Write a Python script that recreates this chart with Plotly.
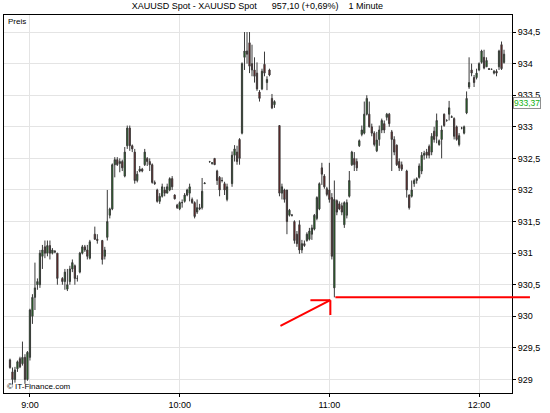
import pandas as pd
import plotly.graph_objects as go

# minute offsets from 09:00 and OHLC values
minute = [-8, -7, -6, -5, -4, -3, -2, -1, 0, 1, 2, 3, 4, 5, 6, 7, 8, 9, 10, 11, 13, 14, 15, 16, 17, 18, 19, 20,
          21, 22, 23, 24, 26, 27, 29, 30, 31, 32, 33, 34, 35, 36, 37, 38, 39, 40, 41, 42, 43, 44, 45, 46, 47, 48,
          49, 50, 51, 52, 53, 54, 55, 56, 57, 58, 59, 60, 61, 62, 63, 64, 65, 66, 67, 68, 69, 70, 72, 73, 74, 75,
          76, 77, 78, 79, 81, 82, 83, 84, 85, 86, 87, 88, 89, 90, 91, 92, 93, 94, 95, 96, 97, 98, 100, 101, 102,
          103, 104, 105, 106, 107, 108, 109, 110, 111, 112, 113, 114, 115, 116, 117, 118, 119, 120, 121, 122, 123,
          124, 125, 126, 127, 128, 129, 130, 131, 132, 133, 134, 135, 136, 137, 138, 139, 140, 141, 142, 143, 144,
          145, 146, 147, 148, 149, 151, 152, 153, 154, 155, 156, 157, 158, 159, 160, 161, 162, 163, 164, 165, 166,
          167, 168, 169, 170, 171, 172, 173, 174, 175, 176, 177, 178, 179, 180, 181, 182, 183, 184, 185, 186, 187,
          188, 189, 190]
open_ = [929.31, 929.12, 929.00, 929.17, 929.33, 929.25, 929.35, 929.00, 929.35, 930.00, 930.30, 930.50, 930.50,
         930.95, 931.10, 931.00, 931.12, 931.00, 931.03, 931.00, 930.60, 930.55, 930.43, 930.55, 930.75, 930.80,
         930.60, 930.70, 931.00, 931.10, 931.05, 930.92, 931.30, 931.22, 931.20, 930.95, 931.25, 931.60, 931.70,
         932.40, 932.48, 932.42, 932.45, 932.22, 932.70, 932.98, 932.70, 932.60, 932.15, 932.30, 932.33, 932.40,
         932.50, 932.45, 932.40, 932.12, 932.00, 931.82, 931.90, 932.00, 931.95, 932.00, 932.18, 931.92, 931.76,
         931.70, 931.80, 931.82, 931.92, 931.95, 931.85, 931.80, 931.65, 931.72, 931.72, 932.10, 932.45, 932.42,
         932.50, 932.30, 932.20, 932.15, 932.10, 931.85, 932.10, 932.55, 932.60, 932.80, 932.90, 934.10, 934.20,
         934.33, 934.00, 933.90, 933.85, 933.55, 933.60, 933.99, 933.70, 933.90, 933.45, 933.35, 933.02, 931.95,
         932.00, 932.00, 931.60, 931.60, 931.50, 931.30, 931.45, 931.05, 931.15, 931.20, 931.22, 931.30, 931.38,
         931.55, 931.70, 932.35, 932.22, 932.02, 932.00, 931.88, 930.45, 931.83, 931.78, 931.75, 931.45, 931.60,
         931.90, 932.40, 932.50, 932.45, 932.70, 932.88, 932.90, 933.20, 933.20, 933.00, 932.90, 932.62, 932.80,
         932.95, 933.05, 933.15, 933.20, 932.92, 932.80, 932.71, 932.45, 932.40, 932.30, 931.92, 931.90, 932.10,
         932.15, 932.20, 932.30, 932.55, 932.60, 932.69, 932.60, 932.93, 932.85, 932.72, 932.80, 933.20, 933.10,
         933.20, 933.15, 933.13, 933.00, 932.72, 932.98, 932.90, 933.22, 933.63, 933.90, 933.78, 933.78, 933.90,
         934.02, 934.10, 933.95, 933.92, 933.91, 933.85, 933.88, 933.95, 934.30, 934.02]
high = [929.33, 929.19, 929.20, 929.30, 929.36, 929.60, 929.40, 929.45, 930.12, 930.35, 930.85, 930.60, 931.05,
        931.13, 931.20, 931.20, 931.20, 931.08, 931.05, 931.00, 930.62, 930.75, 930.75, 930.80, 930.90, 930.82,
        930.65, 931.02, 931.13, 931.13, 931.13, 931.21, 931.42, 931.30, 931.21, 931.10, 932.00, 931.72, 932.42,
        932.52, 932.52, 932.50, 932.48, 932.68, 933.02, 933.02, 932.72, 932.65, 932.30, 932.38, 932.35, 932.65,
        932.52, 932.50, 932.42, 932.15, 932.02, 931.95, 932.10, 932.05, 932.10, 932.20, 932.22, 931.93, 931.78,
        931.82, 931.85, 931.95, 932.02, 932.10, 931.88, 931.82, 931.85, 931.78, 932.19, 932.12, 932.46, 932.44,
        932.50, 932.32, 932.22, 932.20, 932.13, 932.10, 932.61, 932.71, 932.70, 932.82, 934.02, 934.50, 934.50,
        934.50, 934.30, 934.10, 934.02, 933.58, 933.92, 934.19, 933.80, 933.92, 933.52, 933.42, 933.02, 932.10,
        932.02, 932.00, 931.70, 931.62, 931.52, 931.35, 931.52, 931.21, 931.20, 931.33, 931.40, 931.45, 931.62,
        931.90, 932.12, 932.43, 932.25, 932.05, 932.43, 931.95, 932.15, 931.85, 931.82, 931.80, 931.82, 931.85,
        932.30, 932.62, 932.60, 932.50, 932.80, 933.02, 933.40, 933.50, 933.40, 933.05, 932.93, 932.92, 933.02,
        933.13, 933.10, 933.22, 933.22, 932.95, 932.85, 932.72, 932.50, 932.45, 932.32, 931.93, 932.15, 932.18,
        932.20, 932.42, 932.60, 932.62, 932.65, 932.72, 932.90, 933.00, 933.21, 932.80, 933.02, 933.21, 933.12,
        933.41, 933.18, 933.15, 933.02, 932.90, 933.00, 933.02, 933.56, 934.10, 934.00, 933.82, 933.92, 934.02,
        934.22, 934.22, 934.10, 933.93, 933.92, 933.90, 933.91, 934.22, 934.35, 934.22]
low = [929.17, 928.92, 928.95, 929.12, 929.18, 929.22, 928.93, 928.98, 929.30, 929.88, 930.10, 930.42, 930.45,
       930.75, 930.92, 930.95, 930.90, 930.98, 931.00, 930.50, 930.50, 930.42, 930.40, 930.50, 930.70, 930.50,
       930.55, 930.68, 930.98, 931.02, 930.90, 930.90, 931.21, 931.15, 930.82, 930.90, 931.20, 931.55, 931.68,
       932.20, 932.38, 932.28, 932.30, 932.20, 932.65, 932.62, 932.60, 932.10, 932.12, 932.28, 932.28, 932.38,
       932.38, 932.30, 932.10, 932.08, 931.80, 931.78, 931.88, 931.90, 931.95, 931.98, 932.00, 931.85, 931.70,
       931.68, 931.72, 931.80, 931.90, 931.82, 931.78, 931.55, 931.62, 931.68, 931.69, 932.10, 932.43, 932.40,
       932.40, 932.08, 931.90, 932.12, 931.92, 931.82, 932.05, 932.45, 932.40, 932.40, 932.88, 933.90, 934.00,
       933.85, 933.80, 933.70, 933.57, 933.40, 933.58, 933.80, 933.58, 933.80, 933.28, 933.30, 931.90, 931.85,
       931.80, 931.30, 931.58, 931.58, 931.15, 931.10, 930.99, 931.00, 931.10, 931.18, 931.20, 931.21, 931.36,
       931.52, 931.68, 932.08, 932.02, 931.90, 931.80, 930.90, 930.30, 931.60, 931.68, 931.60, 931.40, 931.55,
       931.88, 932.38, 932.30, 932.30, 932.68, 932.85, 932.88, 933.18, 932.99, 932.85, 932.69, 932.60, 932.70,
       932.90, 932.90, 933.10, 933.00, 932.30, 932.55, 932.38, 932.30, 932.30, 931.88, 931.69, 931.88, 932.05,
       932.10, 932.18, 932.25, 932.48, 932.50, 932.50, 932.55, 932.75, 932.74, 932.70, 932.50, 933.00, 933.08,
       933.10, 933.14, 932.80, 932.78, 932.69, 932.96, 932.88, 933.20, 933.60, 933.80, 933.63, 933.75, 933.88,
       934.00, 933.91, 933.95, 933.90, 933.90, 933.83, 933.80, 933.90, 933.90, 934.00]
close = [929.19, 929.00, 929.15, 929.28, 929.20, 929.35, 929.00, 929.43, 930.10, 930.30, 930.45, 930.55, 931.00,
         931.05, 931.00, 931.12, 931.00, 931.05, 931.02, 930.60, 930.55, 930.70, 930.50, 930.75, 930.85, 930.60,
         930.60, 931.00, 931.10, 931.05, 930.95, 931.18, 931.22, 931.20, 930.90, 931.05, 931.50, 931.70, 932.40,
         932.48, 932.40, 932.45, 932.35, 932.60, 932.98, 932.70, 932.65, 932.15, 932.25, 932.33, 932.30, 932.60,
         932.45, 932.40, 932.12, 932.10, 931.82, 931.90, 932.05, 931.95, 932.05, 932.18, 932.05, 931.86, 931.72,
         931.80, 931.80, 931.92, 932.00, 932.05, 931.80, 931.58, 931.72, 931.70, 931.98, 932.11, 932.45, 932.43,
         932.40, 932.15, 932.00, 932.15, 932.00, 932.05, 932.55, 932.65, 932.45, 932.50, 934.00, 934.20, 934.15,
         933.96, 933.90, 933.80, 933.60, 933.45, 933.88, 933.85, 933.75, 933.82, 933.30, 933.40, 931.95, 932.05,
         931.85, 931.50, 931.68, 931.60, 931.20, 931.15, 931.05, 931.15, 931.12, 931.30, 931.35, 931.40, 931.60,
         931.88, 932.10, 932.25, 932.05, 931.93, 931.85, 930.95, 931.85, 931.65, 931.70, 931.65, 931.80, 931.80,
         932.15, 932.60, 932.40, 932.35, 932.78, 932.95, 933.20, 933.45, 933.00, 932.90, 932.72, 932.79, 932.95,
         933.10, 932.95, 933.20, 933.05, 932.80, 932.60, 932.40, 932.35, 932.33, 932.00, 931.72, 932.00, 932.15,
         932.18, 932.38, 932.55, 932.58, 932.55, 932.55, 932.85, 932.80, 933.10, 932.78, 932.95, 933.02, 933.10,
         933.30, 933.16, 932.85, 932.80, 932.86, 932.98, 933.00, 933.45, 933.70, 933.85, 933.70, 933.85, 934.00,
         934.20, 933.93, 934.05, 933.91, 933.91, 933.88, 933.85, 934.20, 933.92, 934.15]

hour_ticks = ["09:00", "10:00", "11:00", "12:00"]
hour_labels = ["9:00", "10:00", "11:00", "12:00"]
price_ticks = [929, 929.5, 930, 930.5, 931, 931.5, 932, 932.5, 933, 933.5, 934, 934.5]
last_price = 933.37
support_after = 60  # the marked low is the lowest candle after 10:00
title_text = ("XAUUSD Spot - XAUUSD Spot" + "&nbsp;" * 6 + "957,10 (+0,69%)" + "&nbsp;" * 4 + "1 Minute")

day = "2008-03-20 "
base = pd.Timestamp(day + "09:00")
times = [base + pd.Timedelta(minutes=m) for m in minute]

x0 = base + pd.Timedelta(minutes=-10.4)
x1 = base + pd.Timedelta(minutes=193.2)
y0, y1 = 928.786, 934.77

FONT = "Liberation Sans"

fig = go.Figure(go.Candlestick(
    x=times, open=open_, high=high, low=low, close=close,
    increasing=dict(fillcolor="#0c800c", line=dict(color="#3a3a3a", width=1)),
    decreasing=dict(fillcolor="#860e0e", line=dict(color="#3a3a3a", width=1)),
    whiskerwidth=0, showlegend=False, hoverinfo="skip",
))

W, H = 550, 413
L, R, T, B = 3, 38, 15, 15
pw, ph = W - L - R, H - T - B


def px(xpix):
    return (xpix - L) / pw


def py(ypix):
    return (H - B - ypix) / ph


def tpaper(t):
    return (t - x0) / (x1 - x0)


def ppaper(p):
    return (p - y0) / (y1 - y0)


# support line at the marked low
cand = [i for i, m in enumerate(minute) if m > support_after]
low_idx = min(cand, key=lambda i: low[i])
lp = ppaper(low[low_idx])
lx = tpaper(times[low_idx]) + 0.002
red = "#ff0000"
shapes = [
    dict(type="line", xref="paper", yref="paper", x0=lx, x1=px(530), y0=lp, y1=lp,
         line=dict(color=red, width=2)),
    dict(type="line", xref="paper", yref="paper", x0=px(280), y0=py(330), x1=px(330), y1=py(304),
         line=dict(color=red, width=2)),
    dict(type="line", xref="paper", yref="paper", x0=px(310), y0=py(304), x1=px(330), y1=py(304),
         line=dict(color=red, width=2)),
    dict(type="line", xref="paper", yref="paper", x0=px(330), y0=py(304), x1=px(330), y1=py(319),
         line=dict(color=red, width=2)),
]

fig.update_layout(
    width=W, height=H,
    margin=dict(l=L, r=R, t=T, b=B),
    paper_bgcolor="white", plot_bgcolor="white",
    font=dict(family=FONT, size=9, color="black"),
    title=dict(text=title_text, x=0.468, xanchor="center", y=0.993, yanchor="top",
               font=dict(family=FONT, size=9, color="black")),
    shapes=shapes,
    annotations=[
        dict(text="Preis", xref="paper", yref="paper", x=0.004, y=1.0, xanchor="left", yanchor="top",
             showarrow=False, font=dict(size=8)),
        dict(text="© IT-Finance.com", xref="paper", yref="paper", x=0.002, y=0.0, xanchor="left",
             yanchor="bottom", showarrow=False, font=dict(size=8)),
        dict(text=f"{last_price:.2f}".replace(".", ","), xref="paper", yref="y", x=1.0, y=last_price,
             xanchor="left", yanchor="middle", showarrow=False, font=dict(size=8.5, color="#10b010"),
             bgcolor="white", bordercolor="#909090", borderwidth=1, borderpad=0, xshift=1),
    ],
    xaxis=dict(
        type="date", range=[x0, x1], rangeslider=dict(visible=False),
        tickvals=[pd.Timestamp(day + t) for t in hour_ticks], ticktext=hour_labels,
        showgrid=True, gridcolor="#e4e4e4", gridwidth=1,
        showline=True, linecolor="black", linewidth=1, mirror=True,
        ticks="outside", ticklen=3, tickcolor="black", zeroline=False,
    ),
    yaxis=dict(
        side="right", range=[y0, y1],
        tickvals=price_ticks,
        ticktext=[(f"{v:g}").replace(".", ",") for v in price_ticks],
        showgrid=True, gridcolor="#e4e4e4", gridwidth=1,
        showline=True, linecolor="black", linewidth=1, mirror=True,
        ticks="outside", ticklen=3, tickcolor="black", zeroline=False,
    ),
)

fig.write_html("out.html", config={"displayModeBar": False},
               post_script="document.body.style.margin='0';")
